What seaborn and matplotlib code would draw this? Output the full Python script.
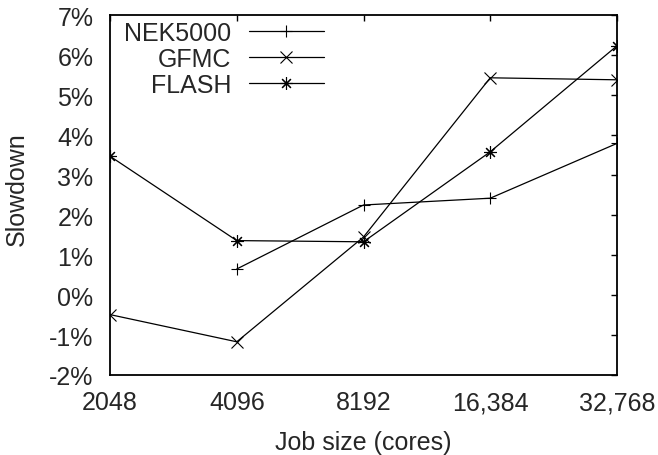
import numpy as np
import pandas as pd
import matplotlib
matplotlib.use("Agg")
import matplotlib.pyplot as plt
import seaborn as sns

categories = ["2048", "4096", "8192", "16,384", "32,768"]
nek5000 = [np.nan, 0.65, 2.25, 2.42, 3.79]
gfmc = [-0.49, -1.17, 1.45, 5.43, 5.38]
flash = [3.47, 1.36, 1.33, 3.58, 6.23]
series_names = ["NEK5000", "GFMC", "FLASH"]
y_ticks = [-2, -1, 0, 1, 2, 3, 4, 5, 6, 7]

rows = []
for name, vals in zip(series_names, [nek5000, gfmc, flash]):
    for i, v in enumerate(vals):
        if not np.isnan(v):
            rows.append({"pos": i, "value": v, "series": name})
df = pd.DataFrame(rows)

sns.set_style("white")
plt.rcParams["font.family"] = ["Liberation Sans", "DejaVu Sans"]
FS = 18
plt.rcParams["font.size"] = FS

fig = plt.figure(figsize=(6.58, 4.56), dpi=100)
ax = fig.add_axes([110 / 658, 1 - 376 / 456, (617 - 110) / 658, (376 - 16) / 456])

markers = {"NEK5000": "+", "GFMC": "x", "FLASH": (8, 2, 0)}
sns.lineplot(data=df, x="pos", y="value", hue="series", style="series",
             hue_order=series_names, style_order=series_names,
             palette={n: "black" for n in series_names},
             markers=markers, dashes=False, markersize=9,
             markeredgewidth=0.8, markeredgecolor="black",
             linewidth=0.9, ax=ax, legend=True)

ax.set_xlim(0, len(categories) - 1)
ax.set_ylim(-2, 7)
ax.set_xticks(range(len(categories)))
ax.set_xticklabels(categories)
ax.set_yticks(y_ticks)
ax.set_yticklabels([f"{t}%" for t in y_ticks])
ax.set_xlabel("Job size (cores)", labelpad=11)
ax.set_ylabel("Slowdown")
ax.yaxis.set_label_coords(-0.16, 0.518)
ax.tick_params(axis="both", which="major", direction="in", length=4, width=1,
               top=True, right=True, color="black", labelsize=FS)
ax.tick_params(axis="x", pad=11)
ax.tick_params(axis="y", pad=12)
for s in ax.spines.values():
    s.set_visible(True)
    s.set_color("black")
    s.set_linewidth(1.3)

h, l = ax.get_legend_handles_labels()
leg = ax.legend(h, l, loc="upper left", bbox_to_anchor=(0.008, 1.012),
                markerfirst=False, frameon=False,
                handlelength=3.0, handletextpad=0.7, labelspacing=0.08,
                borderaxespad=0.0, fontsize=FS)

fig.savefig("out.png", dpi=100)
